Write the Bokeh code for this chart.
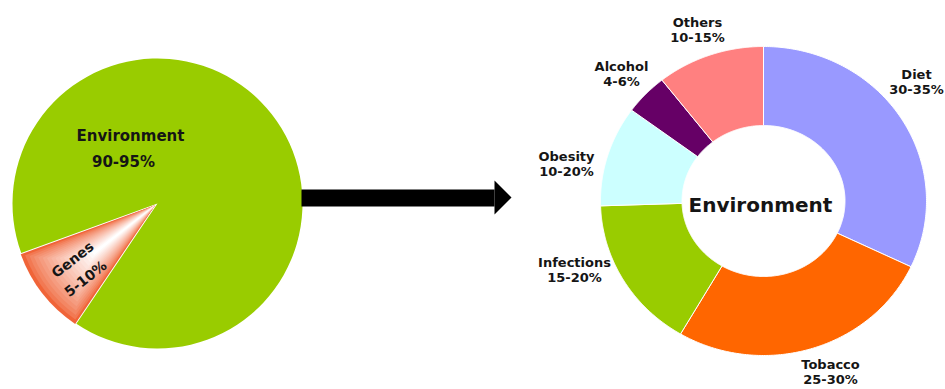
import numpy as np
from bokeh.plotting import figure
from bokeh.models import Range1d
from bokeh.core.properties import value
from bokeh.embed import file_html
from bokeh.resources import INLINE

# Left pie: share of cancer causes, genetic vs environmental
pie_labels = ["Environment", "Genes"]
pie_values = [90, 10]
pie_ranges = ["90-95%", "5-10%"]

# Right donut: breakdown of the environmental share
ring_labels = ["Diet", "Tobacco", "Infections", "Obesity", "Alcohol", "Others"]
ring_values = [32, 26.5, 16, 10.5, 4.3, 10.7]
ring_ranges = ["30-35%", "25-30%", "15-20%", "10-20%", "4-6%", "10-15%"]
ring_colors = ["#9999ff", "#ff6600", "#99cc00", "#ccffff", "#660066", "#ff8080"]

W, H = 945, 389
FONT = value("DejaVu Sans")
INK = "#151515"

p = figure(width=W, height=H, x_range=Range1d(0, W), y_range=Range1d(0, H),
           output_backend="svg", toolbar_location=None, min_border=0)
p.axis.visible = False
p.grid.visible = False
p.outline_line_color = None
p.background_fill_color = "white"
p.border_fill_color = "white"

# ---------------- left pie ----------------
cx, cy, R = 157, 186, 145
spans = np.array(pie_values, dtype=float) / sum(pie_values) * 2 * np.pi
g0 = np.deg2rad(200)          # Genes slice opens at 200 degrees
g1 = g0 + spans[1]
p.wedge(x=cx, y=cy, radius=R, start_angle=g1, end_angle=g0 + 2 * np.pi,
        fill_color="#99cc00", line_color=None)

# Genes slice, slightly pulled out, shaded from orange edges to a white core
mid, half = (g0 + g1) / 2, (g1 - g0) / 2
gx, gy = cx + 3 * np.cos(mid), cy + 3 * np.sin(mid)
orange = np.array([240, 100, 56])
n = 18
for i in range(n):
    f = i / (n - 1)
    hw = half * (1 - 0.93 * f)
    r = (R - 2) * (1 - 0.45 * f)
    c = orange + (255 - orange) * (f ** 0.7)
    col = "#%02x%02x%02x" % tuple(int(round(v)) for v in c)
    p.wedge(x=gx, y=gy, radius=r, start_angle=mid - hw, end_angle=mid + hw,
            fill_color=col, line_color=None)

p.text(x=[130, 123], y=[H - 135, H - 161], text=[pie_labels[0], pie_ranges[0]],
       text_font=FONT, text_font_style="bold", text_font_size="15px",
       text_color=INK, text_align="center", text_baseline="middle")
p.text(x=[72, 85], y=[H - 259, H - 278], text=[pie_labels[1], pie_ranges[1]],
       angle=np.deg2rad(38), text_font=FONT, text_font_style="bold",
       text_font_size="14px", text_color=INK, text_align="center",
       text_baseline="middle")

# ---------------- arrow ----------------
p.quad(left=301, right=494, bottom=H - 206, top=H - 189, fill_color="black", line_color=None)
p.patch([494, 494, 511], [H - 180, H - 214, H - 197], fill_color="black", line_color=None)

# ---------------- right donut ----------------
dcx, dcy = 763, H - 200.5
rxo, ryo, rxi, ryi = 163, 154.5, 81.5, 75.5
fr = np.array(ring_values, dtype=float) / sum(ring_values)
ends = np.pi / 2 - 2 * np.pi * np.cumsum(fr)
starts = np.concatenate([[np.pi / 2], ends[:-1]])
xs, ys = [], []
for a0, a1 in zip(starts, ends):
    t = np.linspace(a0, a1, 160)
    xs.append(list(np.concatenate([dcx + rxo * np.cos(t), dcx + rxi * np.cos(t[::-1])])))
    ys.append(list(np.concatenate([dcy + ryo * np.sin(t), dcy + ryi * np.sin(t[::-1])])))
p.patches(xs, ys, fill_color=ring_colors, line_color="white", line_width=1)

p.text(x=[dcx - 3], y=[dcy - 4], text=["Environment"], text_font=FONT,
       text_font_style="bold", text_font_size="20px", text_color=INK,
       text_align="center", text_baseline="middle")

# label anchors (name line), range printed one line below
label_xy = [(916, 74), (830, 364), (574, 262), (566, 156), (621, 66), (697, 22)]
lx = [a for a, _ in label_xy]
ly = [H - b for _, b in label_xy]
p.text(x=lx, y=ly, text=ring_labels, text_font=FONT, text_font_style="bold",
       text_font_size="13px", text_color=INK, text_align="center", text_baseline="middle")
p.text(x=lx, y=[v - 15 for v in ly], text=ring_ranges, text_font=FONT,
       text_font_style="bold", text_font_size="13px", text_color=INK,
       text_align="center", text_baseline="middle")

open("out.html", "w").write(file_html(p, INLINE))
